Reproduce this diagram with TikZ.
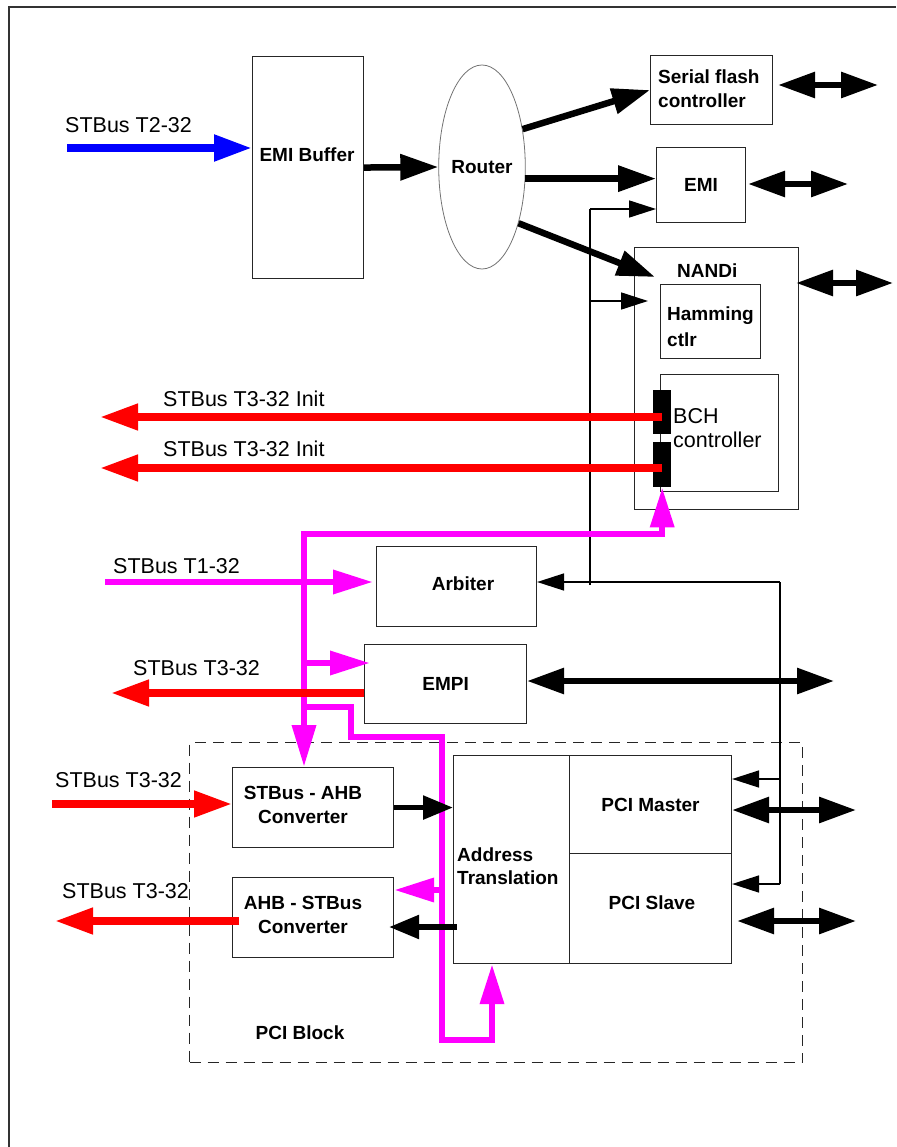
\documentclass[tikz,border=0pt]{standalone}
\usepackage{fontspec}
\setmainfont{Liberation Sans}
\usetikzlibrary{arrows.meta,shapes.geometric,calc}
\definecolor{mag}{RGB}{255,0,255}
\definecolor{rd}{RGB}{255,0,0}
\definecolor{bl}{RGB}{0,0,255}
\begin{document}
\begin{tikzpicture}[x=1pt,y=-1pt,
  box/.style={draw=black!85, line width=1.1pt, inner sep=0pt, anchor=north west},
  bf/.style={font=\bfseries\fontsize{19}{24}\selectfont},
  ext/.style={font=\fontsize{21.5}{24}\selectfont, inner sep=0pt, anchor=base west},
  bl/.style={bf, inner sep=0pt},
  bigarrow/.style={line width=6.5pt, -{Triangle[length=38pt,width=25pt]}},
  midarrow/.style={line width=5.5pt, -{Triangle[length=30pt,width=23pt]}},
  bidir/.style={line width=6pt, {Triangle[length=37pt,width=25pt]}-{Triangle[length=37pt,width=25pt]}},
  thinarrow/.style={line width=1.6pt, -{Triangle[length=27pt,width=17pt]}},
  bluearrow/.style={draw=bl, line width=8pt, -{Triangle[length=38pt,width=25pt]}},
  redarrow/.style={draw=rd, line width=7.5pt, -{Triangle[length=38pt,width=25pt]}},
  magarrow/.style={draw=mag, line width=6.5pt, -{Triangle[length=40pt,width=23pt]}},
  magboth/.style={draw=mag, line width=6.5pt, {Triangle[length=42pt,width=23pt]}-{Triangle[length=40pt,width=23pt]}},
]
\useasboundingbox (0,0) rectangle (896,1147);
% outer frame
\draw[line width=2pt, black!80] (9,1147) -- (9,7) -- (896,7);

% PCI block (dashed)
\node[draw=black!85, dash pattern=on 11pt off 7pt, line width=1.2pt, minimum width=613pt, minimum height=320pt, anchor=north west, inner sep=0pt] (pcib) at (189,742) {};

% boxes
\node[box, minimum width=111pt, minimum height=222pt] (emib) at (252,56) {};
\node[ellipse, draw=black!55, line width=0.8pt, minimum width=84pt, minimum height=204pt, inner sep=0pt, bf] (router) at (482,167) {Router};
\node[box, minimum width=122pt, minimum height=69pt] (sfc) at (650,55) {};
\node[box, bf, minimum width=89pt, minimum height=75pt] (emi) at (656,147) {EMI};
\node[box, minimum width=164pt, minimum height=262pt] (nandi) at (634,247) {};
\node[box, minimum width=100pt, minimum height=74pt] (ham) at (660,284) {};
\node[box, minimum width=118pt, minimum height=117pt] (bch) at (660,374) {};
\node[fill=black, inner sep=0pt, minimum width=18pt, minimum height=44pt, anchor=north west] (port1) at (653,390) {};
\node[fill=black, inner sep=0pt, minimum width=18pt, minimum height=45pt, anchor=north west] (port2) at (653,442) {};
\node[box, minimum width=160pt, minimum height=80pt] (arb) at (376,546) {};
\node[box, bf, minimum width=162pt, minimum height=79pt] (empi) at (364,644) {EMPI};
\node[box, minimum width=161pt, minimum height=80pt] (sahb) at (232,767) {};
\node[box, minimum width=161pt, minimum height=80pt] (ahbs) at (232,877) {};
\node[box, minimum width=116pt, minimum height=208pt] (addr) at (453,755) {};
\node[box, bf, minimum width=162pt, minimum height=98pt] (pcim) at (569,755) {PCI Master};
\node[box, minimum width=162pt, minimum height=110pt] (pcis) at (569,853) {};

% texts in boxes (multi-line nodes: base = last line)
\node[bl, anchor=base] (emibt) at (307,162) {EMI Buffer};
\node[bl, anchor=base west, align=left] (sfct) at (658,108) {Serial flash\\controller};
\node[bl, anchor=base west] (nandit) at (677,278) {NANDi};
\node[bl, font=\bfseries\fontsize{19}{26}\selectfont, anchor=base west, align=left] (hamt) at (667,346) {Hamming\\ctlr};
\node[ext, align=left] (bcht) at (673,447) {BCH\\controller};
\node[bl, anchor=base] (arbt) at (463,590) {Arbiter};
\node[bl, anchor=base, align=center] (sahbt) at (303,823) {STBus - AHB\\Converter};
\node[bl, anchor=base, align=center] (ahbst) at (303,933) {AHB - STBus\\Converter};
\node[bl, font=\bfseries\fontsize{19}{23}\selectfont, anchor=base west, align=left] (addrt) at (457,884) {Address\\Translation};
\node[bl, anchor=base] (pcist) at (652,909) {PCI Slave};
\node[bl, anchor=base] (pcibt) at (300,1039) {PCI Block};

% external labels
\node[ext] (lt2) at (65,133) {STBus T2-32};
\node[ext] (li1) at (163,406) {STBus T3-32 Init};
\node[ext] (li2) at (163,456) {STBus T3-32 Init};
\node[ext] (lt1) at (113,573) {STBus T1-32};
\node[ext] (le3) at (133,675) {STBus T3-32};
\node[ext] (lin3) at (55,787) {STBus T3-32};
\node[ext] (lout3) at (62,898) {STBus T3-32};

% coordinates
\coordinate (t2in) at (67,148);
\coordinate (sfcout) at (878,85);
\coordinate (emiout) at (848,184);
\coordinate (nandiout) at (893,283);
\coordinate (empiout) at (834,681);
\coordinate (pmout) at (856,810);
\coordinate (psout) at (856,921);
\coordinate (j1) at (590,209);
\coordinate (j2) at (590,301);
\coordinate (j3) at (590,585);
\coordinate (j4) at (780,582);
\coordinate (j5) at (780,779);
\coordinate (j6) at (780,884);
\coordinate (init1) at (100,417);
\coordinate (init2) at (100,468);
\coordinate (empired) at (111,693);
\coordinate (redin) at (52,804);
\coordinate (redout) at (55,921);
\coordinate (t1in) at (105,582);
\coordinate (mtop) at (304,534);
\coordinate (mempi) at (304,663);
\coordinate (mr0) at (304,707);
\coordinate (mr1) at (351,737);
\coordinate (mr2) at (442,1040);
\coordinate (mr3) at (492,1040);
\coordinate (mahb) at (442,890);
\coordinate (ab) at (457,927);

% blue input
\draw[bluearrow] (t2in) -- (t2in -| emib.west);
% emi buffer to router and router outputs
\draw[bigarrow] (emib.east) -- (router.west);
\draw[bigarrow] (router.43) -- (sfc.west);
\draw[bigarrow] (router.-15) -- (router.-15 -| emi.west);
\draw[bigarrow] (router.-57) -- ([shift={(21,30)}]nandi.north west);

% bidirectional external buses
\draw[bidir, shorten <=5pt] (sfcout -| sfc.east) -- (sfcout);
\draw[bidir, shorten <=2pt] (emiout -| emi.east) -- (emiout);
\draw[bidir, shorten <=-3pt] (nandiout -| nandi.east) -- (nandiout);
\draw[bidir] (empiout -| empi.east) -- (empiout);

% thin control bus
\draw[line width=1.6pt] (j1) -- (j3);
\draw[thinarrow] (j1) -- (j1 -| emi.west);
\draw[thinarrow, shorten >=12pt] (j2) -- (j2 -| ham.west);
\draw[thinarrow] (j4) -- (j4 -| arb.east);
\draw[line width=1.6pt] (j4) -- (j6);
\draw[thinarrow] (j5) -- (j5 -| pcim.east);
\draw[thinarrow] (j6) -- (j6 -| pcis.east);

% magenta paths
\draw[magarrow, shorten >=3pt] (t1in) -- (t1in -| arb.west);
\draw[magboth] (mtop |- sahb.north) -- (mtop) -- (mtop -| port2.south) -- (port2.south);
\draw[magarrow, shorten >=-6pt] (mempi) -- (mempi -| empi.west);
\draw[magarrow] (mr0) -| (mr1) -- (mr1 -| mr2) -- (mr2) -- (mr3) -- (mr3 |- addr.south);
\draw[magarrow] (mahb) -- (mahb -| ahbs.east);

% red paths
\draw[redarrow] (init1 -| port1) -- (init1);
\draw[redarrow] (init2 -| port2) -- (init2);
\draw[redarrow] (empired -| empi.west) -- (empired);
\draw[redarrow] (redin) -- (redin -| sahb.west);
\draw[redarrow, shorten <=-7pt] (redout -| ahbs.west) -- (redout);

% PCI internal black arrows
\draw[midarrow] (sahb.east) -- (sahb.east -| addr.west);
\draw[midarrow, shorten >=-5pt] (ab) -- (ab -| ahbs.east);
\draw[bidir] (pmout -| pcim.east) -- (pmout);
\draw[bidir, shorten <=5pt] (psout -| pcis.east) -- (psout);
\end{tikzpicture}
\end{document}
